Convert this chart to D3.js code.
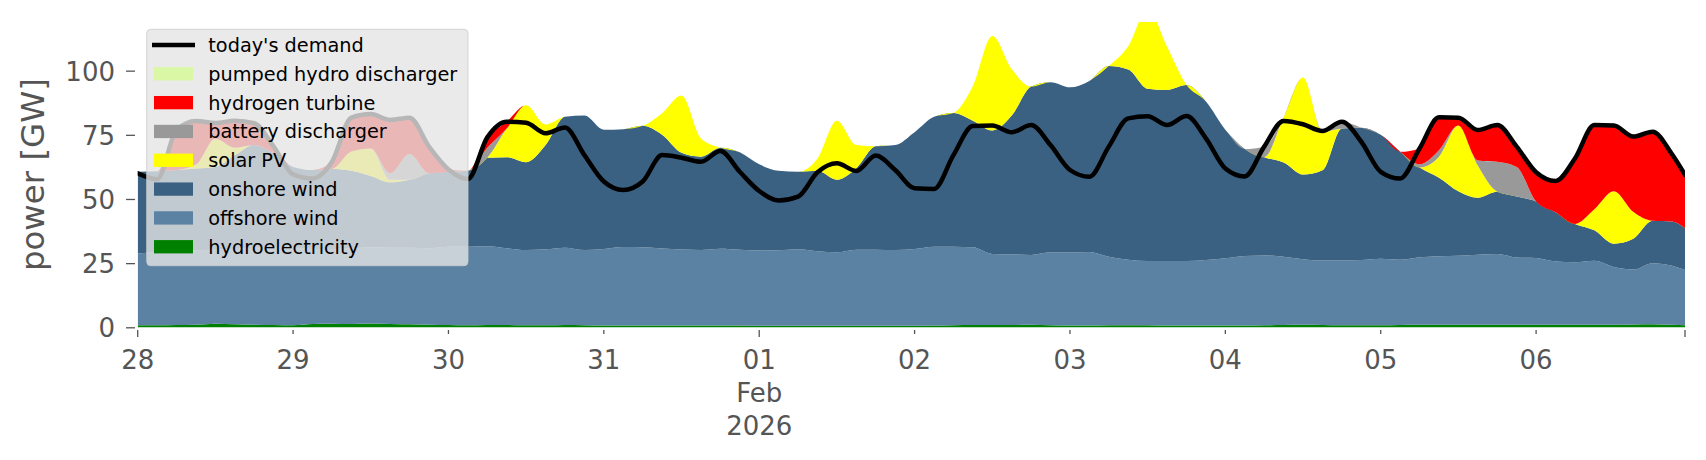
<!DOCTYPE html>
<html><head><meta charset="utf-8">
<script src="https://cdn.jsdelivr.net/npm/d3@7"></script>
<style>
html,body{margin:0;padding:0;background:#fff;}
svg{display:block;font-family:"DejaVu Sans",sans-serif;}
</style></head><body>
<svg id="chart" width="1706" height="460"></svg>
<script>
// ---------------- data ----------------
const startTime = "2026-01-28T00:00:00Z";
const hourOffsets = [0,3,6,9,12,15,18,21,24,27,30,33,36,39,42,45,48,51,54,57,60,63,66,69,72,75,78,81,84,87,90,93,96,99,102,105,108,111,114,117,120,123,126,129,132,135,138,141,144,147,150,153,156,159,162,165,168,171,174,177,180,183,186,189,192,195,198,201,204,207,210,213,216,219,222,225,228,231,234,237,239];

const hydroelectricity = [
 .8,.8,.9,1.0,1.4,1.2,1.0,.9,.8,1.3,
 1.4,1.3,1.5,1.3,1.2,1.0,.9,.8,.9,.9,
 .8,.8,.9,.8,.7,.7,.7,.7,.7,.7,
 .7,.7,.6,.6,.6,.6,.6,.6,.6,.6,
 .6,.7,.8,.9,.9,.9,1.0,.8,.7,.7,
 .8,.8,.8,.7,.7,.7,.7,.7,.8,.9,
 1.0,.9,.8,.8,.8,.9,1.0,1.0,1.0,1.0,
 1.0,1.0,1.0,1.0,1.0,1.0,1.0,1.1,1.2,1.0,
 .8];
const offshoreWind = [
 28.0,28.5,28.9,29.0,28.9,29.3,30.0,30.1,30.2,29.2,
 29.1,29.4,29.7,29.7,29.8,29.8,30.5,30.6,30.7,29.9,
 29.3,29.6,30.1,29.3,29.8,30.6,30.5,30.0,29.6,29.4,
 29.9,29.5,29.3,29.4,29.8,29.0,28.6,29.6,29.6,29.5,
 29.9,30.7,30.6,30.3,27.7,27.5,27.2,28.4,28.5,28.6,
 26.7,25.5,25.0,25.1,25.1,25.5,26.2,27.1,27.2,26.6,
 25.5,25.1,25.2,25.4,25.9,25.4,26.3,26.7,26.9,27.3,
 27.6,26.2,26.0,24.6,24.3,24.9,22.5,21.4,23.8,23.0,
 21.5];
const onshoreWind = [
 31.8,31.5,31.5,31.9,32.2,36.5,40.0,36.7,31.5,30.8,
 31.2,30.3,27.8,25.5,26.5,29.2,29.2,29.6,34.5,35.5,
 34.2,40.6,51.0,52.4,46.5,45.9,47.3,44.3,37.7,36.4,
 39.4,38.0,33.6,31.0,30.2,31.4,28.3,31.8,40.3,40.9,
 45.5,50.6,52.1,49.3,48.1,54.1,65.6,66.3,64.3,66.7,
 74.3,74.2,67.2,66.7,68.6,61.8,50.1,41.7,38.3,36.7,
 33.0,35.2,51.5,51.6,48.3,42.1,35.0,30.6,25.1,22.2,
 24.2,23.8,22.0,19.2,15.0,11.9,9.1,12.0,16.5,17.2,
 16.3];
const solarPV = [
 0,0,0,1.5,11.0,3.0,0,0,0,0,
 0,7.5,10.7,1.0,0,0,0,0,0,11.2,
 22.2,8.0,0,0,0,0,0,8.4,22.3,7.1,
 0,0,0,0,0,4.8,23.0,9.0,0,0,
 0,0,0,13.5,36.8,18.1,0,0,0,0,
 0,9.0,31.0,16.8,0,0,0,0,0,17.6,
 37.8,15.0,0,0,0,0,0,8.2,25.6,12.5,
 0,0,0,0,0,8.2,20.4,10.5,0,0,
 0];
const batteryDischarger = [
 0,0,0,0,0,0,0,0,0,0,
 0,0,0,2.5,10.0,0,0,0,3.9,0,
 0,0,0,0,0,0,0,0,0,0,
 0,0,0,0,0,0,0,0,0,0,
 0,0,0,0,0,0,0,0,0,0,
 0,0,0,0,0,0,0,0,4.1,0,
 0,0.3,2.6,0,0,0,1.2,2.5,0,2.0,
 11.7,11.5,0,0,0,0,0,0,0,0,
 0];
const hydrogenTurbine = [
 0,0,15.6,17.0,6.1,10.5,8.5,2.7,0,0,
 2.8,13.2,13.4,20.8,14.2,10.4,0.9,0,4.0,2.6,
 0,0,0,0,0,0,0,0,0,0,
 0,0,0,0,0,0,0,0,0,0,
 0,0,0,0,0,0,0,0,0,0,
 0,0,0,0,0,0,0,0,0,0,
 0,0,0,0,0,0,6.2,12.8,3.1,11.9,
 14.3,7.9,11.4,12.2,25.5,32.8,25.6,29.3,34.7,26.2,
 20.8];
const pumpedHydroDischarger = [
 0,0,0,0,0,0,0,0,0,0,
 0,0,0,0,0,0,0,0,0,0,
 0,0,0,0,0,0,0,0,0,0,
 0,0,0,0,0,0,0,0,0,0,
 0,0,0,0,0,0,0,0,0,0,
 0,0,0,0,0,0,0,0,0,0,
 0,0,0,0,0,0,0,0,0,0,
 0,0,0,0,0,0,0,0,0,0,
 0];
const todaysDemand = [
 60.0,57.7,76.9,80.4,79.6,80.5,79.5,70.4,59.6,58.0,
 64.5,81.7,83.1,80.8,81.7,70.4,61.5,57.8,74.0,80.1,
 79.7,75.6,77.9,67.1,56.8,53.5,56.8,67.1,66.1,64.5,
 68.7,60.6,53.1,49.4,50.9,60.4,63.9,60.9,66.9,61.3,
 54.2,53.9,67.1,78.4,78.6,76.0,78.8,71.0,61.3,58.7,
 70.4,81.4,82.2,78.8,82.3,73.6,61.9,58.8,70.4,80.4,
 79.1,76.5,80.1,72.3,60.6,58.0,69.7,81.8,81.7,76.9,
 78.8,70.4,60.4,57.0,65.8,78.8,78.6,74.3,76.2,67.4,
 59.4];

const seriesNames = ["hydroelectricity","offshore wind","onshore wind","solar PV","battery discharger","hydrogen turbine","pumped hydro discharger"];
const seriesValues = [hydroelectricity, offshoreWind, onshoreWind, solarPV, batteryDischarger, hydrogenTurbine, pumpedHydroDischarger];
const demandName = "today's demand";
const yTickValues = [0,25,50,75,100];
const xTickLabels = ["28","29","30","31","01|Feb|2026","02","03","04","05","06"];
const yLabel = "power [GW]";
const yMax = 119;

// ---------------- style ----------------
const seriesColors = ["#008000","#5b82a3","#3b6182","#ffff00","#999999","#ff0000","#d9f7a5"];
const axisColor = "#555555";

// ---------------- layout ----------------
const plot = {left:137.7, right:1685, top:21.9, bottom:327.3};
const svg = d3.select("#chart");

const t0 = new Date(startTime);
const times = hourOffsets.map(h => new Date(t0.getTime() + h*3600e3));
const x = d3.scaleUtc().domain([times[0], times[times.length-1]]).range([plot.left, plot.right]);
const y = d3.scaleLinear().domain([0, yMax]).range([plot.bottom, plot.top]);

const table = times.map((t,i) => {
  const row = {time:t};
  seriesNames.forEach((k,j) => row[k] = seriesValues[j][i]);
  return row;
});
const stacked = d3.stack().keys(seriesNames)(table);

svg.append("defs").append("clipPath").attr("id","clip")
  .append("rect").attr("x",plot.left).attr("y",plot.top)
  .attr("width",plot.right-plot.left).attr("height",plot.bottom-plot.top+2);

const area = d3.area()
  .x(d => x(d.data.time)).y0(d => y(d[0])).y1(d => y(d[1]))
  .curve(d3.curveMonotoneX);

const g = svg.append("g").attr("clip-path","url(#clip)");
g.selectAll("path.layer").data(stacked).join("path")
  .attr("class","layer")
  .attr("d", area)
  .attr("fill", (d,i) => seriesColors[i]);

const line = d3.line().x((d,i) => x(times[i])).y(d => y(d)).curve(d3.curveMonotoneX);
g.append("path").datum(todaysDemand)
  .attr("d", line).attr("fill","none").attr("stroke","#000")
  .attr("stroke-width",4.5).attr("stroke-linejoin","round").attr("stroke-linecap","round");

// ---------------- y axis ----------------
const yAxis = d3.axisLeft(y).tickValues(yTickValues).tickSize(9).tickPadding(11).tickFormat(d3.format("d"));
const ya = svg.append("g").attr("transform","translate(135,0)").call(yAxis);
ya.select(".domain").remove();
ya.selectAll(".tick line").attr("stroke",axisColor).attr("stroke-width",1.3);
ya.selectAll(".tick text").attr("fill",axisColor).attr("font-size","26px")
  .attr("font-family","DejaVu Sans").attr("dy","0.36em");

svg.append("text")
  .attr("transform",`translate(44,${(plot.top+plot.bottom)/2}) rotate(-90)`)
  .attr("text-anchor","middle").attr("fill",axisColor)
  .attr("font-size","32.4px").text(yLabel);

// ---------------- x axis ----------------
const dayTicks = d3.utcDay.range(times[0], d3.utcDay.offset(times[0], xTickLabels.length));
const endTime = times[times.length-1];
const tickData = dayTicks.map((d,i) => ({t:d, label:xTickLabels[i], major: i===0 || xTickLabels[i].includes("|")}))
  .concat([{t:endTime, label:"", major:true}]);
const xa = svg.append("g").attr("transform",`translate(0,${plot.bottom+2.7})`);
const xt = xa.selectAll("g.tick").data(tickData).join("g").attr("class","tick")
  .attr("transform", d => `translate(${x(d.t)},0)`);
xt.append("line").attr("y1",0).attr("y2", d => d.major ? 7 : 4)
  .attr("stroke",axisColor).attr("stroke-width",1.3);
const xtext = xt.append("text").attr("text-anchor","middle").attr("fill",axisColor)
  .attr("font-size","26px").attr("y",38.5);
xtext.each(function(d){
  const parts = d.label.split("|");
  const sel = d3.select(this);
  parts.forEach((p,k) => {
    sel.append("tspan").attr("x",0).attr("dy", k===0 ? 0 : "1.27em").text(p);
  });
});

// ---------------- legend ----------------
const leg = svg.append("g");
leg.append("rect").attr("x",146.7).attr("y",29.3).attr("width",321.3).attr("height",236.4)
  .attr("rx",4).attr("fill","#e5e5e5").attr("fill-opacity",0.8)
  .attr("stroke","#cccccc").attr("stroke-opacity",0.8).attr("stroke-width",1);
const legendItems = [{name:demandName, type:"line", color:"#000"}]
  .concat(seriesNames.map((n,i) => ({name:n, type:"patch", color:seriesColors[i]})).reverse());
const rowH = 28.82, row0 = 45;
const li = leg.selectAll("g.item").data(legendItems).join("g").attr("class","item")
  .attr("transform",(d,i) => `translate(0,${row0 + i*rowH})`);
li.filter(d => d.type==="line").append("line")
  .attr("x1",152).attr("x2",195).attr("y1",0).attr("y2",0)
  .attr("stroke",d=>d.color).attr("stroke-width",4.5);
li.filter(d => d.type==="patch").append("rect")
  .attr("x",154).attr("y",-6.65).attr("width",39).attr("height",13.3)
  .attr("fill",d=>d.color);
li.append("text").attr("x",208.3).attr("y",7).attr("font-size","19.3px")
  .attr("fill","#000").text(d => d.name);
</script>
</body></html>
